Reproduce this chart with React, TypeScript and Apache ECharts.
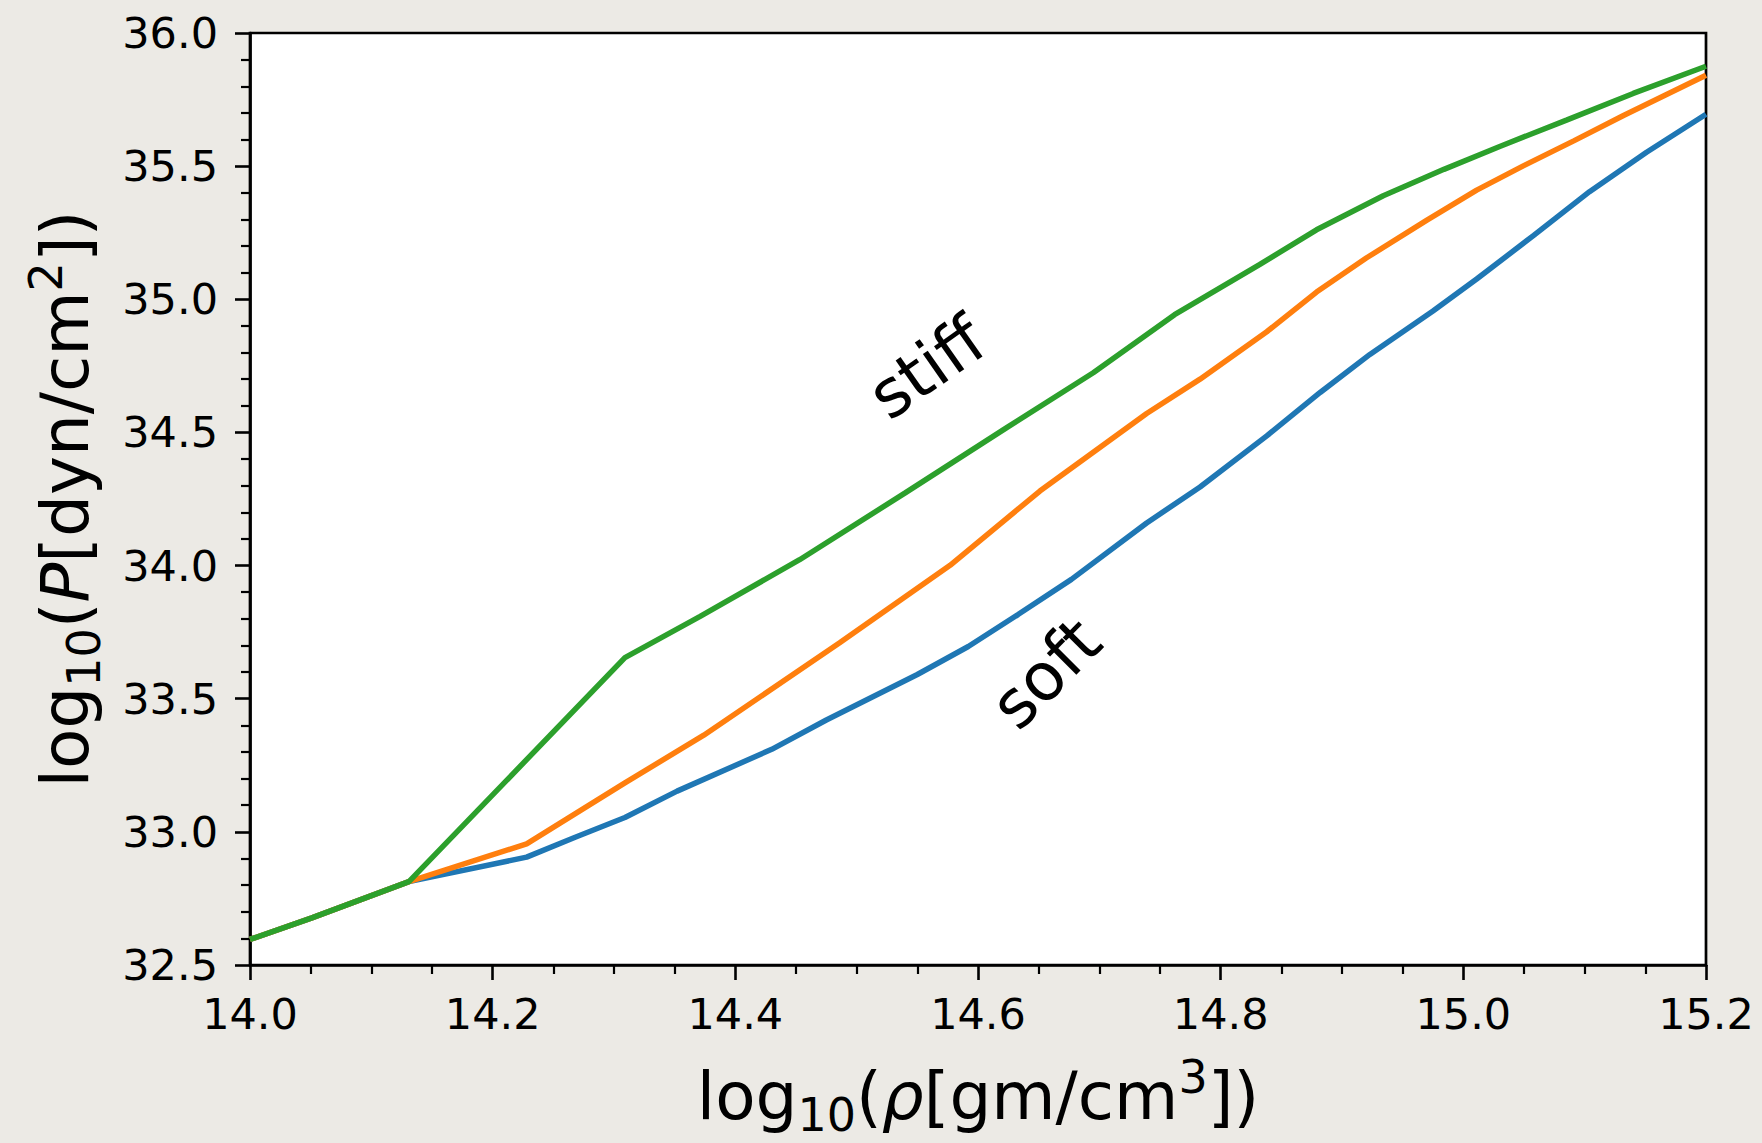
import React, { useEffect, useRef } from "react";
import * as echarts from "echarts";

// log10(rho) / log10(P) tabulated curves
const softX = [14.0, 14.051, 14.131, 14.228, 14.268, 14.309, 14.352, 14.43, 14.475, 14.55, 14.592, 14.633, 14.677, 14.739, 14.783, 14.838, 14.882, 14.923, 14.975, 15.011, 15.058, 15.104, 15.151, 15.2];
const softY = [32.596, 32.677, 32.813, 32.905, 32.98, 33.054, 33.153, 33.31, 33.42, 33.591, 33.696, 33.816, 33.948, 34.16, 34.295, 34.487, 34.65, 34.793, 34.956, 35.076, 35.24, 35.404, 35.552, 35.695];

const midX = [14.0, 14.051, 14.131, 14.228, 14.309, 14.374, 14.486, 14.577, 14.651, 14.739, 14.783, 14.838, 14.879, 14.92, 14.97, 15.011, 15.049, 15.091, 15.132, 15.2];
const midY = [32.596, 32.677, 32.813, 32.955, 33.184, 33.363, 33.71, 34.001, 34.28, 34.571, 34.7, 34.878, 35.027, 35.155, 35.297, 35.41, 35.5, 35.595, 35.69, 35.841];

const stiffX = [14.0, 14.051, 14.131, 14.309, 14.371, 14.453, 14.54, 14.624, 14.695, 14.762, 14.832, 14.879, 14.934, 14.984, 15.03, 15.085, 15.14, 15.2];
const stiffY = [32.596, 32.677, 32.813, 33.654, 33.809, 34.022, 34.273, 34.519, 34.724, 34.942, 35.13, 35.261, 35.389, 35.488, 35.574, 35.673, 35.773, 35.875];

const xMin = 14.0, xMax = 15.2, xStep = 0.2;
const yMin = 32.5, yMax = 36.0, yStep = 0.5;

const noteTexts = ["stiff", "soft"];
const noteX = [14.558, 14.656];
const noteY = [34.743, 33.595];

const FONT = "DejaVu Sans";
const zip = (a: number[], b: number[]) => a.map((v, i) => [v, b[i]]);

export default function App() {
  const ref = useRef<HTMLDivElement>(null);
  useEffect(() => {
    const chart = echarts.init(ref.current!, null, { renderer: "svg" });
    const richTitle = {
      a: { fontFamily: FONT, fontSize: 66, lineHeight: 84, color: "#000" },
      i: { fontFamily: FONT, fontSize: 66, lineHeight: 84, fontStyle: "italic", color: "#000" },
      s: { fontFamily: FONT, fontSize: 46, lineHeight: 46, verticalAlign: "bottom", color: "#000" },
      p: { fontFamily: FONT, fontSize: 46, lineHeight: 46, verticalAlign: "top", color: "#000" },
    };
    const axisCommon = {
      axisLine: { show: true, lineStyle: { color: "#000", width: 2.7 } },
      axisTick: { show: true, inside: false, length: 15, lineStyle: { color: "#000", width: 2.6 } },
      minorTick: { show: true, length: 9, lineStyle: { color: "#000", width: 2.2 } },
      splitLine: { show: false },
      minorSplitLine: { show: false },
    };
    const lineSeries = (name: string, xs: number[], ys: number[], color: string) => ({
      name,
      type: "line",
      data: zip(xs, ys),
      showSymbol: false,
      symbol: "none",
      clip: true,
      lineStyle: { color, width: 5.5 },
      itemStyle: { color },
      silent: true,
    });
    chart.setOption({
      animation: false,
      backgroundColor: "#ECEAE5",
      grid: {
        left: 250,
        right: 56,
        top: 33,
        bottom: 167,
        show: true,
        backgroundColor: "#ffffff",
        borderColor: "#000",
        borderWidth: 2.7,
        containLabel: false,
      },
      xAxis: {
        type: "value",
        min: xMin,
        max: xMax,
        interval: xStep,
        ...axisCommon,
        minorTick: { ...axisCommon.minorTick, splitNumber: 4 },
        axisLabel: {
          fontFamily: FONT,
          fontSize: 43,
          color: "#000",
          margin: 27,
          formatter: (v: number) => v.toFixed(1),
        },
        name: "{a|log}{s|10}{a|(}{i|ρ}{a|[gm/cm}{p|3}{a|])}",
        nameLocation: "middle",
        nameGap: 89,
        nameTextStyle: { fontFamily: FONT, fontSize: 66, color: "#000", rich: richTitle },
      },
      yAxis: {
        type: "value",
        min: yMin,
        max: yMax,
        interval: yStep,
        ...axisCommon,
        minorTick: { ...axisCommon.minorTick, splitNumber: 5 },
        axisLabel: {
          fontFamily: FONT,
          fontSize: 43,
          color: "#000",
          margin: 32,
          formatter: (v: number) => v.toFixed(1),
        },
        name: "{a|log}{s|10}{a|(}{i|P}{a|[dyn/cm}{p|2}{a|])}",
        nameLocation: "middle",
        nameRotate: 90,
        nameGap: 143,
        nameTextStyle: { fontFamily: FONT, fontSize: 66, color: "#000", rich: richTitle },
      },
      series: [
        lineSeries("soft", softX, softY, "#1f77b4"),
        lineSeries("medium", midX, midY, "#ff7f0e"),
        lineSeries("stiff", stiffX, stiffY, "#2ca02c"),
        {
          type: "scatter",
          silent: true,
          symbolSize: 1,
          itemStyle: { color: "rgba(255,255,255,0)" },
          data: noteTexts.map((t, i) => ({
            value: [noteX[i], noteY[i]],
            name: t,
            label: {
              show: true,
              position: "inside",
              formatter: t,
              rotate: i === 0 ? 35 : 45,
              fontFamily: FONT,
              fontSize: 66,
              color: "#000000",
              opacity: 1,
              textBorderWidth: 0,
              align: "center",
              verticalAlign: "middle",
            },
          })),
        },
      ],
    });
    return () => chart.dispose();
  }, []);
  return (
    <div
      ref={ref}
      style={{ position: "fixed", left: 0, top: 0, width: 1762, height: 1143, background: "#ECEAE5" }}
    />
  );
}
